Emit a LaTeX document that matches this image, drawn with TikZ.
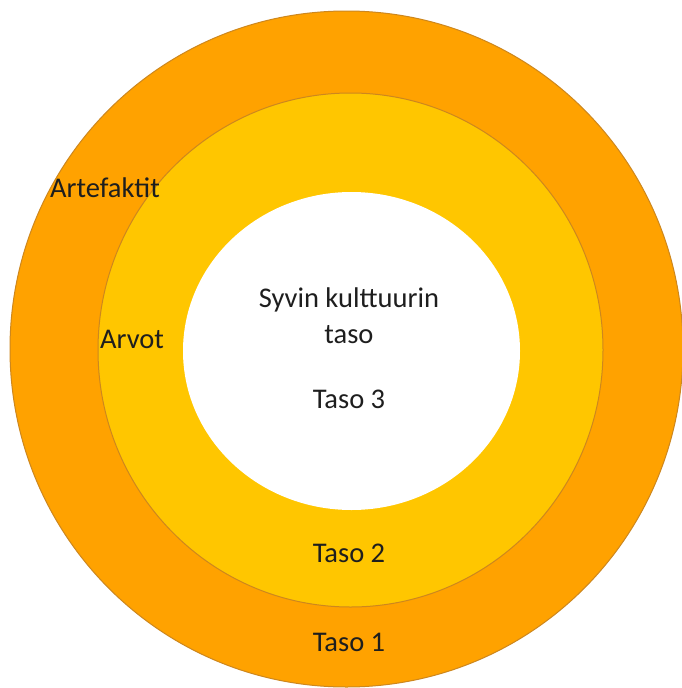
\documentclass[tikz,border=0pt]{standalone}
\usepackage{fontspec}
\setmainfont{Carlito}
\definecolor{outerc}{RGB}{255,162,0}
\definecolor{midc}{RGB}{255,198,0}
\definecolor{edgec}{RGB}{205,135,30}
\definecolor{txtc}{RGB}{30,30,30}
\begin{document}
\begin{tikzpicture}[x=1pt,y=-1pt,
  ring/.style={draw=edgec,line width=1pt},
  lbl/.style={text=txtc,font=\fontsize{28.5}{36}\selectfont,inner sep=0pt,align=center}]
\useasboundingbox (0,0) rectangle (682,688);
\fill[white] (0,0) rectangle (682,688);
\begin{scope}
\clip (0,0) rectangle (682,688);
\path[ring,fill=outerc] (346.5,349) ellipse [x radius=336.5, y radius=338];
\path[ring,fill=midc] (350.5,350) ellipse [x radius=252.5, y radius=257];
\path[fill=white] (351.5,351) ellipse [x radius=168.5, y radius=159];
\end{scope}
\node[lbl] (art) at (105,188) {Artefaktit};
\node[lbl] (arv) at (132,339) {Arvot};
\node[lbl] (syv) at (349,316) {Syvin kulttuurin\\taso};
\node[lbl] (t3) at (349,399) {Taso 3};
\node[lbl] (t2) at (349,553) {Taso 2};
\node[lbl] (t1) at (349,642) {Taso 1};
\end{tikzpicture}
\end{document}
